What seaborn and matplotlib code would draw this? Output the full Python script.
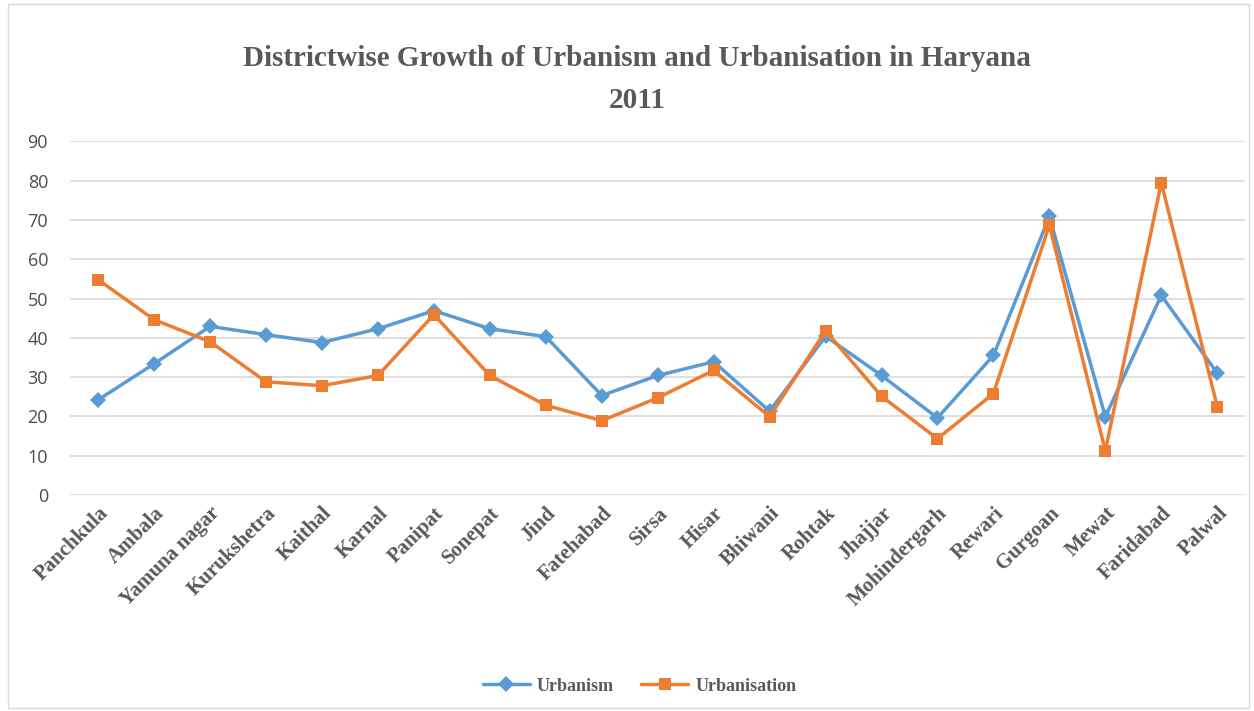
import pandas as pd
import numpy as np
import matplotlib
matplotlib.use("Agg")
import matplotlib.pyplot as plt
import seaborn as sns

districts = ['Panchkula', 'Ambala', 'Yamuna nagar', 'Kurukshetra', 'Kaithal', 'Karnal',
             'Panipat', 'Sonepat', 'Jind', 'Fatehabad', 'Sirsa', 'Hisar', 'Bhiwani',
             'Rohtak', 'Jhajjar', 'Mohindergarh', 'Rewari', 'Gurgoan', 'Mewat',
             'Faridabad', 'Palwal']
urbanism = [24.2, 33.4, 42.9, 40.8, 38.8, 42.3, 46.9, 42.3, 40.3, 25.3, 30.4,
            33.9, 21.3, 40.4, 30.4, 19.6, 35.5, 70.9, 19.9, 50.8, 31.0]
urbanisation = [54.8, 44.6, 39.0, 28.8, 27.8, 30.4, 45.9, 30.4, 22.8, 18.9, 24.7,
                31.7, 19.9, 41.8, 25.1, 14.3, 25.8, 68.7, 11.2, 79.5, 22.5]
y_ticks = [0, 10, 20, 30, 40, 50, 60, 70, 80, 90]

df = pd.DataFrame({'District': districts * 2,
                   'pos': list(range(len(districts))) * 2,
                   'Value': urbanism + urbanisation,
                   'Series': ['Urbanism'] * len(districts) + ['Urbanisation'] * len(districts)})

sns.set_style("white")
grey = '#595959'
serif = ['Liberation Serif', 'DejaVu Serif']

fig = plt.figure(figsize=(12.54, 7.11), dpi=100)
ax = fig.add_axes([0.056, 0.304, 0.937, 0.497])

palette = {'Urbanism': '#5B9BD5', 'Urbanisation': '#ED7D31'}
markers = {'Urbanism': 'D', 'Urbanisation': 's'}
sns.lineplot(data=df, x='pos', y='Value', hue='Series', style='Series',
             palette=palette, markers=markers, dashes=False, linewidth=2.5,
             markersize=8, markeredgewidth=0, sort=False, ax=ax)

ax.set_xlim(-0.5, len(districts) - 0.5)
ax.set_ylim(0, 90)
ax.set_yticks(y_ticks)
ax.set_xticks(range(len(districts)))
ax.set_xticklabels(districts, rotation=45, ha='right', va='top', rotation_mode='anchor',
                   fontsize=15, fontweight='bold', color=grey, family=serif)
ax.tick_params(axis='y', labelsize=13, labelcolor='#4d4d4d', length=0, pad=16)
ax.tick_params(axis='x', length=0, pad=6)
for lab in ax.get_yticklabels():
    lab.set_family(['Open Sans', 'DejaVu Sans'])
ax.yaxis.grid(True, color='#D9D9D9', linewidth=1.2)
ax.xaxis.grid(False)
for s in ax.spines.values():
    s.set_visible(False)
ax.set_xlabel('')
ax.set_ylabel('')

fig.text(0.508, 0.918, 'Districtwise Growth of Urbanism and Urbanisation in Haryana',
         ha='center', va='center', fontsize=21, fontweight='bold', color=grey, family=serif)
fig.text(0.508, 0.859, '2011', ha='center', va='center', fontsize=21,
         fontweight='bold', color=grey, family=serif)

ax.legend(loc='center', bbox_to_anchor=(0.51, 0.035), bbox_transform=fig.transFigure,
          ncol=2, frameon=False, handlelength=2.6, handletextpad=0.4, columnspacing=1.5,
          prop={'family': serif, 'weight': 'bold', 'size': 13})
for t in ax.get_legend().get_texts():
    t.set_color(grey)

fig.patches.append(plt.Rectangle((0.006, 0.004), 0.99, 0.99, transform=fig.transFigure,
                                 fill=False, edgecolor='#D9D9D9', linewidth=1))

fig.savefig('out.png', dpi=100)
